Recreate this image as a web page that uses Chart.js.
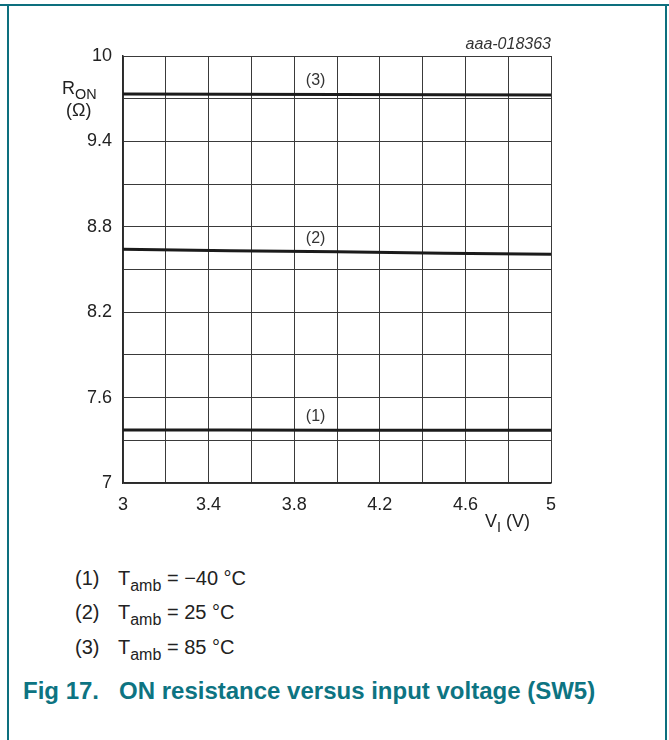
<!DOCTYPE html>
<html>
<head>
<meta charset="utf-8">
<script src="https://cdn.jsdelivr.net/npm/chart.js@4.4.0/dist/chart.umd.min.js"></script>
<style>
  body { margin: 0; background: #fff; font-family: "Liberation Sans", Arial, sans-serif; }
  #page { position: relative; width: 669px; height: 740px; overflow: hidden; }
  #frameTop { position: absolute; left: 0; top: 4px; width: 669px; height: 1.5px; background: #0d6f7e; }
  #frameLeft { position: absolute; left: 7px; top: 4px; width: 1.5px; height: 736px; background: #0d6f7e; }
  #frameRight { position: absolute; left: 665px; top: 4px; width: 1.5px; height: 736px; background: #0d6f7e; }
  #chartBox { position: absolute; left: 0; top: 0; }
  .txt { position: absolute; color: #222; white-space: nowrap; }
  .txt sub { font-size: 0.8em; vertical-align: -0.35em; line-height: 0; }
  .legend { font-size: 20px; }
  #caption { position: absolute; left: 23px; top: 677px; font-size: 24px; font-weight: bold; color: #0d7482; white-space: pre; }
</style>
</head>
<body>
<div id="page">
  <div id="frameTop"></div>
  <div id="frameLeft"></div>
  <div id="frameRight"></div>
  <div id="chartBox"><canvas id="chart" width="669" height="540"></canvas></div>
  <div class="txt" style="left:62px; top:78px; font-size:18px;">R<sub>ON</sub></div>
  <div class="txt" style="left:66px; top:100px; font-size:18px;">(Ω)</div>
  <div class="txt" style="left:485px; top:511px; font-size:18px;">V<sub>I</sub> (V)</div>
  <div class="txt legend" style="left:75px; top:567px;">(1)</div>
  <div class="txt legend" style="left:118px; top:567px;">T<sub>amb</sub> = −40 °C</div>
  <div class="txt legend" style="left:75px; top:601px;">(2)</div>
  <div class="txt legend" style="left:118px; top:601px;">T<sub>amb</sub> = 25 °C</div>
  <div class="txt legend" style="left:75px; top:636px;">(3)</div>
  <div class="txt legend" style="left:118px; top:636px;">T<sub>amb</sub> = 85 °C</div>
  <div id="caption">Fig 17.   ON resistance versus input voltage (SW5)</div>
</div>
<script>
// Data
const vIn = [3, 3.5, 4, 4.5, 5];
const ronMinus40 = [7.372, 7.372, 7.371, 7.371, 7.371];
const ron25 = [8.642, 8.632, 8.624, 8.615, 8.607];
const ron85 = [9.733, 9.731, 9.730, 9.728, 9.726];
const seriesTags = ["(1)", "(2)", "(3)"];
const tagPos = [[3.9, 7.465], [3.9, 8.72], [3.9, 9.83]];

const xGrid = [3, 3.2, 3.4, 3.6, 3.8, 4, 4.2, 4.4, 4.6, 4.8, 5];
const xLabels = ["3", "3.4", "3.8", "4.2", "4.6", "5"];
const yGrid = [7, 7.3, 7.6, 7.9, 8.2, 8.5, 8.8, 9.1, 9.4, 9.7, 10];
const yLabels = ["7", "7.6", "8.2", "8.8", "9.4", "10"];

const toPoints = (ys) => vIn.map((x, i) => ({ x: x, y: ys[i] }));

const lineStyle = {
  borderColor: "#1b1b1b",
  borderWidth: 3,
  pointRadius: 0,
  fill: false,
  tension: 0
};

// tags (1) (2) (3) and figure id
const extraText = {
  id: "extraText",
  afterDraw(chart) {
    const c = chart.ctx;
    const xs = chart.scales.x, ys = chart.scales.y;
    c.save();
    c.fillStyle = "#333";
    c.font = "16px 'Liberation Sans', Arial, sans-serif";
    c.textAlign = "center";
    c.textBaseline = "middle";
    seriesTags.forEach((t, i) => {
      c.fillText(t, xs.getPixelForValue(tagPos[i][0]), ys.getPixelForValue(tagPos[i][1]));
    });
    c.font = "italic 16px 'Liberation Sans', Arial, sans-serif";
    c.textAlign = "right";
    c.fillText("aaa-018363", chart.chartArea.right, 45);
    c.restore();
  }
};

const fmt = (v) => String(Math.round(v * 10) / 10);

new Chart(document.getElementById("chart"), {
  type: "line",
  data: {
    datasets: [
      Object.assign({ label: "-40", data: toPoints(ronMinus40) }, lineStyle),
      Object.assign({ label: "25", data: toPoints(ron25) }, lineStyle),
      Object.assign({ label: "85", data: toPoints(ron85) }, lineStyle)
    ]
  },
  options: {
    responsive: false,
    animation: false,
    devicePixelRatio: 1,
    layout: { padding: { top: 56, right: 118, left: 0, bottom: 0 } },
    plugins: { legend: { display: false }, tooltip: { enabled: false } },
    scales: {
      x: {
        type: "linear",
        min: 3,
        max: 5,
        afterBuildTicks: (axis) => { axis.ticks = xGrid.map(v => ({ value: v })); },
        afterFit: (axis) => { axis.height = 57; },
        ticks: {
          autoSkip: false,
          maxRotation: 0,
          padding: 11,
          color: "#222",
          font: { family: "'Liberation Sans', Arial, sans-serif", size: 18 },
          callback: (v) => xLabels.includes(fmt(v)) ? fmt(v) : ""
        },
        grid: { color: "#3a3a3a", lineWidth: 1, drawTicks: false },
        border: { color: "#2a2a2a", width: 1.5 }
      },
      y: {
        type: "linear",
        min: 7,
        max: 10,
        afterBuildTicks: (axis) => { axis.ticks = yGrid.map(v => ({ value: v })); },
        afterFit: (axis) => { axis.width = 123; },
        ticks: {
          autoSkip: false,
          padding: 11,
          color: "#222",
          font: { family: "'Liberation Sans', Arial, sans-serif", size: 18 },
          callback: (v) => yLabels.includes(fmt(v)) ? fmt(v) : ""
        },
        grid: { color: "#3a3a3a", lineWidth: 1, drawTicks: false },
        border: { color: "#2a2a2a", width: 1.5 }
      }
    }
  },
  plugins: [extraText]
});
</script>
</body>
</html>
